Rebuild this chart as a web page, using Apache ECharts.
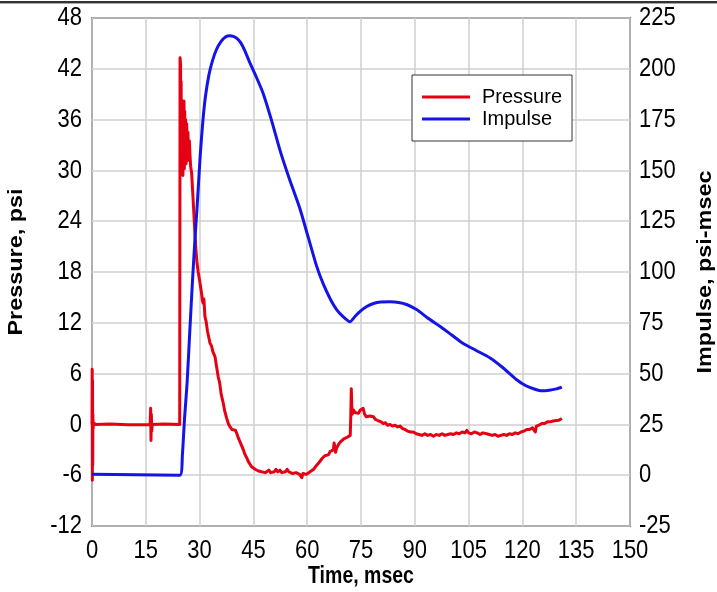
<!DOCTYPE html>
<html>
<head>
<meta charset="utf-8">
<script src="https://cdn.jsdelivr.net/npm/echarts@6/dist/echarts.min.js"></script>
<style>
  html, body { margin: 0; padding: 0; background: #fff; }
  #chart { width: 717px; height: 592px; }
</style>
</head>
<body>
<div id="chart"></div>
<script>
// Tick values for each axis
const timeTicks = [0, 15, 30, 45, 60, 75, 90, 105, 120, 135, 150];
const pressureTicks = [-12, -6, 0, 6, 12, 18, 24, 30, 36, 42, 48];
const impulseTicks = [-25, 0, 25, 50, 75, 100, 125, 150, 175, 200, 225];

// Axis titles
const timeTitle = 'Time, msec';
const pressureTitle = 'Pressure, psi';
const impulseTitle = 'Impulse, psi-msec';

// Measured pressure history: [time msec, pressure psi]
const pressureData = [
  [0, 0], [0.05, 6.5], [0.1, -6.6], [0.15, 5.2], [0.2, -4.8], [0.25, 1.2], [0.3, -0.5], [0.4, 0.2],
  [1, 0], [5, 0.05], [10, -0.05], [16.2, 0], [16.35, 1.9], [16.45, -1.9], [16.55, 1.2], [16.65, -0.8],
  [16.8, 0], [20, 0.05], [24.45, 0],
  [24.55, 43.3], [24.7, 42.5], [24.75, 29.5], [24.85, 40.5], [24.95, 30.5], [25.05, 38.3], [25.15, 31],
  [25.25, 38], [25.35, 29.4], [25.45, 37.5], [25.55, 32], [25.65, 38.2], [25.75, 30.2], [25.85, 37],
  [25.95, 31.5], [26.1, 36], [26.25, 30.8], [26.4, 35.5], [26.55, 31.5], [26.75, 34.5], [26.95, 31.2],
  [27.15, 33.5], [27.3, 32.0], [27.5, 30.5], [27.8, 29.6], [28.0, 28.0], [28.2, 26.5], [28.45, 24.5],
  [28.7, 22.5], [29.0, 20.5], [29.3, 19.0], [29.6, 18.0], [30.0, 17.0], [30.5, 15.6], [30.8, 14.6],
  [31.0, 14.3], [31.2, 14.8], [31.5, 12.7], [31.8, 12.2], [32.2, 11.0], [32.6, 10.2], [32.9, 9.6],
  [33.3, 9.3], [33.7, 8.6], [34.0, 8.3], [34.3, 8.0], [34.7, 6.9], [35.2, 5.6], [35.6, 4.9], [36.0, 3.6],
  [36.6, 2.5], [37.0, 1.6], [37.5, 0.8], [38.0, 0.1], [38.5, -0.3], [39.0, -0.6], [39.5, -0.8],
  [40.0, -0.7], [40.3, -1.0], [40.8, -1.6], [41.3, -2.1], [41.8, -2.6], [42.2, -3.0], [42.7, -3.6],
  [43.2, -4.0], [43.6, -4.4], [44.0, -4.6], [44.5, -5.0], [45.0, -4.9], [45.5, -5.3], [45.9, -5.2],
  [46.4, -5.5], [46.8, -5.3], [47.3, -5.6], [47.8, -5.4], [48.3, -5.7], [48.8, -5.5], [49.3, -5.4],
  [49.8, -5.7], [50.3, -5.5], [50.8, -5.6], [51.3, -5.3], [51.8, -5.6], [52.4, -5.4], [52.9, -5.7],
  [53.4, -5.5], [53.9, -5.6], [54.4, -5.3], [54.9, -5.6], [55.4, -5.5], [55.9, -5.8], [56.4, -5.6],
  [56.9, -5.7], [57.4, -5.5], [57.9, -5.9], [58.3, -5.7], [58.5, -6.3], [58.8, -5.8], [59.3, -6.0],
  [59.8, -5.9], [60.3, -5.7], [60.8, -5.6], [61.3, -5.5], [61.8, -5.3], [62.3, -5.0], [62.8, -4.8],
  [63.3, -4.5], [63.8, -4.4], [64.2, -4.0], [64.5, -4.2], [64.9, -3.7], [65.4, -3.5], [65.9, -3.6],
  [66.4, -3.2], [66.9, -3.4], [67.3, -3.0], [67.5, -2.2], [67.7, -2.6], [67.9, -3.3], [68.2, -2.8],
  [68.7, -2.4], [69.2, -2.1], [69.7, -1.9], [70.2, -1.7], [70.7, -1.5], [71.2, -1.5], [71.7, -1.4],
  [72.0, -1.3], [72.15, 1.0], [72.3, 4.2], [72.45, 2.0], [72.6, 1.2], [72.9, 1.7], [73.3, 1.4],
  [73.8, 1.6], [74.3, 1.3], [74.8, 1.7], [75.3, 1.5], [75.6, 1.9], [76.0, 1.2], [76.5, 0.9], [77.0, 0.7],
  [77.5, 1.0], [78.0, 0.8], [78.5, 0.9], [79.0, 0.6], [79.4, 0.75], [80.0, 0.4], [80.6, 0.3], [81.2, 0.1],
  [81.8, 0.2], [82.4, -0.1], [83.1, 0.0], [83.8, -0.2], [84.5, -0.1], [85.2, -0.3], [85.9, -0.2],
  [86.6, -0.5], [87.3, -0.6], [88.0, -0.8], [88.8, -0.9], [89.6, -0.9], [90.4, -1.1], [91.2, -1.2],
  [92.0, -1.3], [92.8, -1.1], [93.6, -1.3], [94.4, -1.2], [95.2, -1.4], [96.0, -1.2], [96.8, -1.3],
  [97.6, -1.1], [98.4, -1.3], [99.2, -1.2], [100, -1.1], [100.8, -1.2], [101.6, -1.0], [102.4, -1.1],
  [103.2, -0.9], [104, -1.0], [104.5, -0.7], [105, -1.0], [105.8, -1.1], [106.6, -0.9], [107.4, -1.0],
  [108.2, -1.2], [109, -1.0], [110, -1.1], [110.8, -1.2], [111.6, -1.3], [112.4, -1.2], [113.2, -1.4],
  [114, -1.3], [114.8, -1.2], [115.6, -1.3], [116.4, -1.1], [117.2, -1.2], [118, -1.0], [118.8, -1.1],
  [119.6, -0.9], [120.4, -0.8], [121.2, -0.6], [122, -0.6], [122.8, -0.4], [123.3, -0.3], [123.6, -0.9],
  [123.9, -0.2], [124.6, -0.1], [125.4, 0.1], [126.2, 0.1], [127, 0.3], [127.8, 0.3], [128.6, 0.4],
  [129.4, 0.45], [130.2, 0.5], [131, 0.7]
];

// Cumulative impulse: [time msec, impulse psi-msec]
const impulseData = [
  [0, 0.5], [24.5, 0], [25.2, 10], [25.8, 28], [26.5, 45], [27.3, 72], [28.0, 95], [28.7, 116],
  [29.3, 132], [30.2, 158], [30.9, 174], [31.6, 186], [32.6, 197], [33.6, 204], [34.7, 209.5],
  [36.0, 213.5], [37.3, 215.8], [38.4, 216.3], [39.4, 216], [40.4, 215], [41.4, 213], [42.6, 209],
  [44.0, 203], [45.8, 196], [47.7, 188], [50, 175], [52.4, 160], [55, 146], [58, 131], [60.3, 117],
  [62.6, 103], [64.5, 94], [66.5, 86.5], [68.2, 81.5], [70.0, 78], [71.9, 75.5], [73.5, 78.5],
  [75.0, 81], [76.6, 83], [78.5, 84.5], [80.5, 85.2], [83.1, 85.3], [85.5, 85], [87.7, 84],
  [90.5, 81.5], [93.5, 77.5], [97.0, 73.3], [100.3, 69], [103.5, 64.8], [107, 61.5], [111, 57.7],
  [114.5, 53], [118.4, 47], [121, 44], [123.5, 42.3], [125.5, 41.5], [127.5, 41.8], [129.5, 42.5],
  [131, 43.3]
];

const seriesNames = ['Pressure', 'Impulse'];
const seriesColors = ['#e60014', '#1414e6'];

const FONT = '"Liberation Sans", Arial, sans-serif';
const TEXT_STRETCH = 1.2;   // tall, narrow lettering
const gridLine = { show: true, lineStyle: { color: '#cfcfcf', width: 1.5 } };

const chart = echarts.init(document.getElementById('chart'), null, { renderer: 'canvas' });

function axisFrom(ticks) {
  return { min: ticks[0], max: ticks[ticks.length - 1], interval: ticks[1] - ticks[0] };
}

chart.setOption({
  animation: false,
  backgroundColor: '#fff',
  grid: {
    left: 92, right: 87, top: 18, bottom: 66,
    show: true, borderColor: '#222', borderWidth: 1.5, backgroundColor: 'transparent'
  },
  legend: {
    orient: 'vertical',
    left: 412, top: 75,
    data: seriesNames,
    icon: 'rect',
    itemWidth: 48, itemHeight: 3,
    itemGap: 0,
    padding: [11, 10, 11, 10],
    borderColor: '#333', borderWidth: 1,
    backgroundColor: '#fff',
    textStyle: { color: '#000', fontSize: 20, fontFamily: FONT, lineHeight: 22, padding: [0, 0, 0, 7] }
  },
  xAxis: Object.assign({
    type: 'value',
    axisLine: { show: false }, axisTick: { show: false }, axisLabel: { show: false },
    splitLine: gridLine
  }, axisFrom(timeTicks)),
  yAxis: [
    Object.assign({
      type: 'value',
      axisLine: { show: false }, axisTick: { show: false }, axisLabel: { show: false },
      splitLine: gridLine
    }, axisFrom(pressureTicks)),
    Object.assign({
      type: 'value', position: 'right',
      axisLine: { show: false }, axisTick: { show: false }, axisLabel: { show: false },
      splitLine: { show: false }
    }, axisFrom(impulseTicks))
  ],
  series: [
    {
      name: seriesNames[0], type: 'line', yAxisIndex: 0,
      data: pressureData, symbol: 'none', clip: false,
      lineStyle: { color: seriesColors[0], width: 3, join: 'round' },
      itemStyle: { color: seriesColors[0] }, z: 3
    },
    {
      name: seriesNames[1], type: 'line', yAxisIndex: 1,
      data: impulseData, symbol: 'none', clip: false, smooth: 0.2,
      lineStyle: { color: seriesColors[1], width: 3, join: 'round' },
      itemStyle: { color: seriesColors[1] }, z: 4
    }
  ]
});

// Tick labels and axis titles, placed with the axes' own scales and drawn
// with vertically stretched lettering.
function label(text, x, y, align, opts) {
  return Object.assign({
    type: 'text', x: x, y: y, silent: true, z: 10,
    scaleY: TEXT_STRETCH,
    style: {
      text: String(text), x: 0, y: 0, fill: '#000',
      font: '22px ' + FONT, align: align, verticalAlign: 'middle'
    }
  }, opts || {});
}

const rect = chart.getModel().getComponent('grid').coordinateSystem.getRect();
const left = rect.x, right = rect.x + rect.width, bottom = rect.y + rect.height;
const elements = [
  { type: 'rect', shape: { x: 0, y: 1, width: 717, height: 2 }, style: { fill: '#333' }, silent: true },
  { type: 'rect', shape: { x: 0, y: 3, width: 717, height: 1 }, style: { fill: '#aaa' }, silent: true }
];

timeTicks.forEach(v => {
  elements.push(label(v, chart.convertToPixel({ xAxisIndex: 0 }, v), bottom + 25, 'center'));
});
pressureTicks.forEach(v => {
  elements.push(label(v, left - 10, chart.convertToPixel({ yAxisIndex: 0 }, v), 'right'));
});
impulseTicks.forEach(v => {
  elements.push(label(v, right + 9, chart.convertToPixel({ yAxisIndex: 1 }, v), 'left'));
});

const midY = rect.y + rect.height / 2;
const titleFont = 'bold 19.5px ' + FONT;
elements.push({
  type: 'text', x: left + rect.width / 2, y: bottom + 51, silent: true, scaleY: TEXT_STRETCH,
  style: { text: timeTitle, x: 0, y: 0, fill: '#000', font: titleFont, align: 'center', verticalAlign: 'middle' }
});
elements.push({
  type: 'text', x: 17, y: midY - 10, rotation: Math.PI / 2, scaleX: TEXT_STRETCH, silent: true,
  style: { text: pressureTitle, x: 0, y: 0, fill: '#000', font: titleFont, align: 'center', verticalAlign: 'middle' }
});
elements.push({
  type: 'text', x: 706, y: midY, rotation: Math.PI / 2, scaleX: TEXT_STRETCH, silent: true,
  style: { text: impulseTitle, x: 0, y: 0, fill: '#000', font: titleFont, align: 'center', verticalAlign: 'middle' }
});

chart.setOption({ graphic: { elements: elements } });
</script>
</body>
</html>
